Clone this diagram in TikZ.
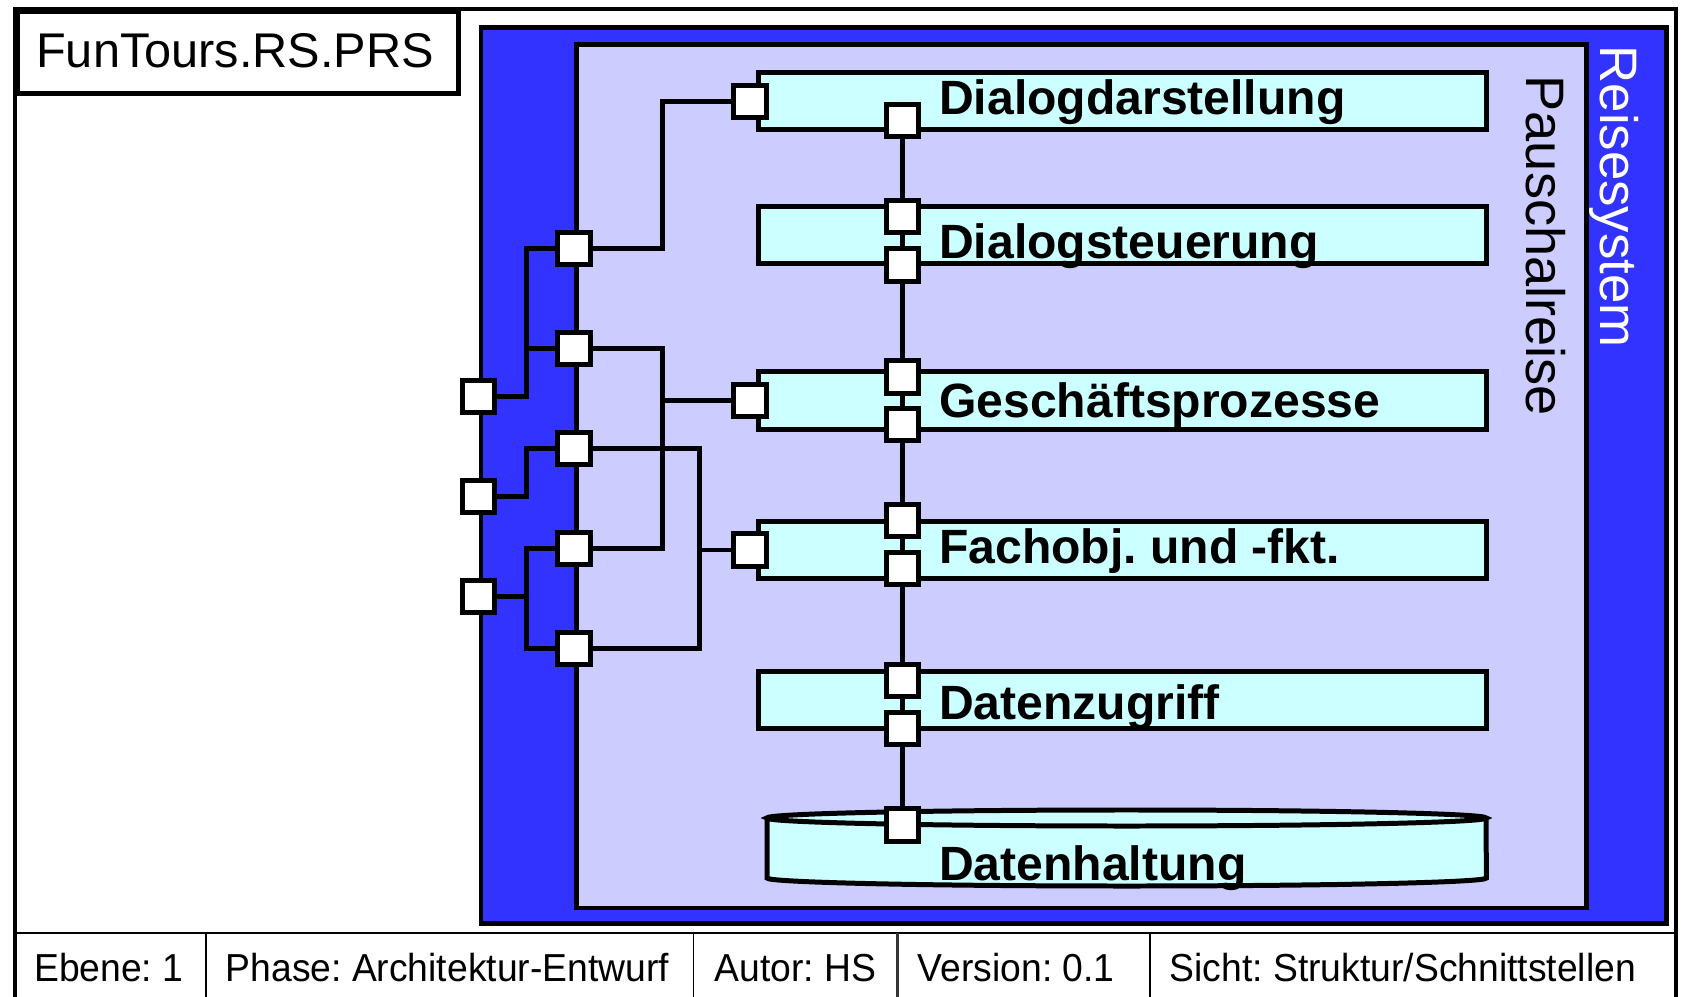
\documentclass[tikz,border=0pt]{standalone}
\usepackage{fontspec}
\setmainfont{Liberation Sans}
\frenchspacing

\definecolor{sysblue}{RGB}{51,51,255}
\definecolor{pkglilac}{RGB}{204,204,255}
\definecolor{compcyan}{RGB}{204,255,255}

% footer cells use a slightly condensed face
\newcommand{\footcell}[1]{\scalebox{0.955}[1]{#1}}

\begin{document}
\begin{tikzpicture}[x=0.01cm,y=-0.01cm,
  wire/.style={line width=1.42pt},
  portsq/.style={draw, fill=white, line width=1.42pt, rectangle, minimum size=0.32cm, inner sep=0pt},
  compbox/.style={draw, fill=compcyan, line width=1.42pt, rectangle, minimum width=7.27cm, minimum height=0.57cm, inner sep=0pt},
  complabel/.style={anchor=base west, inner sep=0pt, font=\fontsize{13.68pt}{16pt}\selectfont\bfseries},
  foottext/.style={anchor=base west, inner sep=0pt, font=\fontsize{11.1pt}{13pt}\selectfont},
  sidelabel/.style={anchor=base west, inner sep=0pt, rotate=-90},
  thinrule/.style={line width=0.45pt}
]
\path[use as bounding box] (0,0) rectangle (1681,997);
\clip (0,0) rectangle (1681,997);
\fill[white] (0,0) rectangle (1681,997);

% sheet frame and title field
\draw[line width=1.2pt] (15,1010) -- (15,9) -- (1676,9) -- (1676,1010);
\node[draw, line width=1.42pt, anchor=north west, minimum width=4.41cm, minimum height=0.82cm, inner sep=0pt] (title) at (15,9) {};
\node[anchor=base west, inner sep=0pt, font=\fontsize{13.85pt}{16pt}\selectfont] (titletext) at (35.5,67.5) {FunTours.RS.PRS};

% footer row
\draw[thinrule] (15,933) -- (1676,933);
\draw[thinrule] (206,933) -- (206,1010);
\draw[thinrule] (693.5,933) -- (693.5,1010);
\draw[line width=0.9pt, black!80] (897.5,933) -- (897.5,1010);
\draw[thinrule] (1150,933) -- (1150,1010);
\node[foottext] (ebene) at (33.5,981.7) {\footcell{Ebene: 1}};
\node[foottext] (phase) at (225,981.7) {\footcell{Phase: Architektur-Entwurf}};
\node[foottext] (autor) at (714,981.7) {\footcell{Autor: HS}};
\node[foottext] (version) at (917,981.7) {\footcell{Version: 0.1}};
\node[foottext] (sicht) at (1169,981.7) {\footcell{Sicht: Struktur/Schnittstellen}};

% system and package containers
\node[draw, fill=sysblue, line width=1.42pt, anchor=north west, minimum width=11.845cm, minimum height=8.958cm, inner sep=0pt] (sys) at (478.5,24.7) {};
\node[draw, fill=pkglilac, line width=1.42pt, anchor=north west, minimum width=10.09cm, minimum height=8.63cm, inner sep=0pt] (pkg) at (574,42) {};
\node[sidelabel, text=white, font=\fontsize{15.0pt}{17pt}\selectfont] (systext) at (1600,45) {Reisesystem};
\node[sidelabel, font=\fontsize{15.4pt}{18pt}\selectfont] (pkgtext) at (1526,75) {Pauschalreise};

% layers
\node[compbox] (dd) at (1122.5,101) {};
\node[compbox] (ds) at (1122.5,235) {};
\node[compbox] (gp) at (1122.5,400.5) {};
\node[compbox] (fo) at (1122.5,550) {};
\node[compbox] (dz) at (1122.5,700) {};

% data store
\path[fill=compcyan] (767,818) -- (767,878) arc[start angle=180, end angle=360, x radius=3.595cm, y radius=0.08cm] -- (1486,818) -- cycle;
\draw[wire] (767,818) -- (767,878) arc[start angle=180, end angle=360, x radius=3.595cm, y radius=0.08cm] -- (1486,818);
\draw[wire, fill=compcyan] (1126.5,818) ellipse [x radius=3.595cm, y radius=0.08cm];

% ports on the system boundary
\node[portsq] (b1) at (478.5,396.5) {};
\node[portsq] (b2) at (478.5,496.5) {};
\node[portsq] (b3) at (478.5,596.5) {};
% ports on the package boundary
\node[portsq] (q1) at (574,248.7) {};
\node[portsq] (q2) at (574,348.7) {};
\node[portsq] (q3) at (574,448.7) {};
\node[portsq] (q4) at (574,548.7) {};
\node[portsq] (q5) at (574,648.7) {};
% external ports of the layers
\node[portsq] (ddl) at (750,101.7) {};
\node[portsq] (gpl) at (750,400.5) {};
\node[portsq] (fol) at (750,550) {};
% internal ports of the layer stack
\node[portsq] (ddb) at (902.5,120.7) {};
\node[portsq] (dst) at (902.5,216.7) {};
\node[portsq] (dsb) at (902.5,265) {};
\node[portsq] (gpt) at (902.5,377) {};
\node[portsq] (gpb) at (902.5,424.5) {};
\node[portsq] (fot) at (902.5,520.7) {};
\node[portsq] (fob) at (902.5,568.7) {};
\node[portsq] (dzt) at (902.5,680.7) {};
\node[portsq] (dzb) at (902.5,728.3) {};
\node[portsq] (dht) at (902.5,825) {};

% junction points
\coordinate (ja) at (526,348.7);
\coordinate (jb) at (526,596.5);
\coordinate (jc) at (662.5,400.5);
\coordinate (jd) at (699,550);

% system ports to package ports
\draw[wire] (b1) -- (526,396.5) |- (q1);
\draw[wire] (ja) -- (q2);
\draw[wire] (b2) -- (526,496.5) |- (q3);
\draw[wire] (q4) -- (526,548.7) -- (526,648.7) -- (q5);
\draw[wire] (b3) -- (jb);

% package ports to layers
\draw[wire] (q1) -- (662.5,248.7) |- (ddl);
\draw[wire] (q2) -- (662.5,348.7) -- (662.5,548.7) -- (q4);
\draw[wire] (jc) -- (gpl);
\draw[wire] (q3) -- (699,448.7) -- (699,648.7) -- (q5);
\draw[wire] (jd) -- (fol);

% layer stack
\draw[wire] (ddb) -- (dst) -- (dsb) -- (gpt) -- (gpb) -- (fot) -- (fob) -- (dzt) -- (dzb) -- (dht);

% layer names
\node[complabel] (ddtext) at (938.5,115) {Dialogdarstellung};
\node[complabel] (dstext) at (938.5,258.3) {Dialogsteuerung};
\node[complabel] (gptext) at (938.5,417) {Geschäftsprozesse};
\node[complabel] (fotext) at (938.5,563.3) {Fachobj. und -fkt.};
\node[complabel] (dztext) at (938.5,719.3) {Datenzugriff};
\node[complabel] (dhtext) at (938.5,880) {Datenhaltung};
\end{tikzpicture}
\end{document}
